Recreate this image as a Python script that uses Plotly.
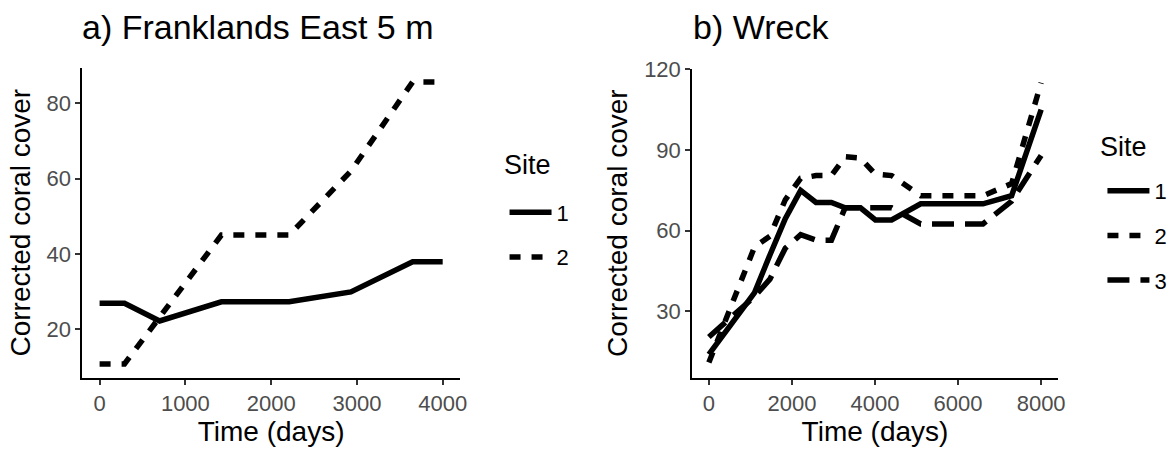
import plotly.graph_objects as go

# ---- a) Franklands East 5 m ----
fe_days = [0, 290, 700, 1420, 2210, 2930, 3650, 4000]
fe_site1 = [26.9, 26.9, 22.2, 27.3, 27.3, 29.9, 37.9, 37.9]
fe_site2 = [10.8, 10.8, 23.2, 45.0, 45.0, 62.0, 85.7, 85.7]

# ---- b) Wreck ----
wr_days = [0, 1100, 1470, 1840, 2210, 2580, 2950, 3280, 3650, 4010, 4400, 5100, 6600, 7290, 8000]
wr_site1 = [14.0, 37.0, 51.0, 64.5, 75.0, 70.5, 70.5, 68.5, 68.5, 64.0, 64.0, 70.0, 70.0, 73.0, 105.0]
wr_site2 = [11.0, 54.0, 58.0, 71.5, 79.5, 80.5, 80.5, 87.5, 87.0, 81.0, 80.5, 73.0, 73.0, 77.5, 115.0]
wr_site3 = [20.5, 35.5, 42.0, 53.5, 58.5, 56.5, 56.5, 68.5, 68.5, 68.5, 68.5, 62.5, 62.5, 71.0, 88.0]

fe_ticks = [0, 1000, 2000, 3000, 4000]
fe_yticks = [20, 40, 60, 80]
wr_ticks = [0, 2000, 4000, 6000, 8000]
wr_yticks = [30, 60, 90, 120]

site_labels = ["1", "2", "3"]
site_dash = ["solid", "11px,11px", "22px,11px"]

W, H = 1175, 450
FONT = "Liberation Sans, Arial, sans-serif"
LW = 5.5

fig = go.Figure()

for i, ys in enumerate([fe_site1, fe_site2]):
    fig.add_trace(go.Scatter(
        x=fe_days, y=ys, mode="lines", name=site_labels[i],
        line=dict(color="black", width=LW, dash=site_dash[i]),
        xaxis="x", yaxis="y", legend="legend", legendgroup="a" + site_labels[i],
    ))

for i, ys in enumerate([wr_site1, wr_site2, wr_site3]):
    fig.add_trace(go.Scatter(
        x=wr_days, y=ys, mode="lines", name=site_labels[i],
        line=dict(color="black", width=LW, dash=site_dash[i]),
        xaxis="x2", yaxis="y2", legend="legend2", legendgroup="b" + site_labels[i],
    ))

axis_common = dict(
    showline=True, linecolor="black", linewidth=2,
    ticks="outside", ticklen=5, tickwidth=2, tickcolor="#333333",
    showgrid=False, zeroline=False,
    tickfont=dict(family=FONT, size=22, color="#4D4D4D"),
)


def px(v):
    return v / W


def py(v):
    return 1 - v / H


legend_common = dict(
    xanchor="left", yanchor="top",
    font=dict(size=22, color="black"), tracegroupgap=13,
    itemwidth=42, bgcolor="rgba(0,0,0,0)",
)


def text_note(text, x, y, size):
    return dict(text=text, x=px(x), y=py(y), xref="paper", yref="paper",
                xanchor="left", yanchor="middle", showarrow=False,
                font=dict(size=size, color="black", family=FONT))


fig.update_layout(
    width=W, height=H,
    margin=dict(l=0, r=0, t=0, b=0),
    paper_bgcolor="white", plot_bgcolor="white",
    font=dict(family=FONT, color="black"),
    xaxis=dict(domain=[px(83), px(463)], range=[-200, 4200], tickvals=fe_ticks,
               anchor="y",
               title=dict(text="Time (days)", font=dict(size=28, color="black"), standoff=4),
               **axis_common),
    yaxis=dict(domain=[py(376), py(58)], range=[7.1, 89.5], tickvals=fe_yticks,
               anchor="x",
               title=dict(text="Corrected coral cover", font=dict(size=28, color="black"), standoff=8),
               **axis_common),
    xaxis2=dict(domain=[px(697), px(1065)], range=[-400, 8400], tickvals=wr_ticks,
                anchor="y2",
                title=dict(text="Time (days)", font=dict(size=28, color="black"), standoff=4),
                **axis_common),
    yaxis2=dict(domain=[py(376), py(59)], range=[5.3, 120.3], tickvals=wr_yticks,
                anchor="x2",
                title=dict(text="Corrected coral cover", font=dict(size=28, color="black"), standoff=8),
                **axis_common),
    legend=dict(x=px(508), y=py(185), **legend_common),
    legend2=dict(x=px(1110), y=py(163), **legend_common),
    annotations=[
        text_note("a) Franklands East 5 m", 81, 16, 34),
        text_note("b) Wreck", 696, 16, 34),
        text_note("Site", 505, 158, 27),
        text_note("Site", 1106, 139, 27),
    ],
)

fig.write_html("out.html")
